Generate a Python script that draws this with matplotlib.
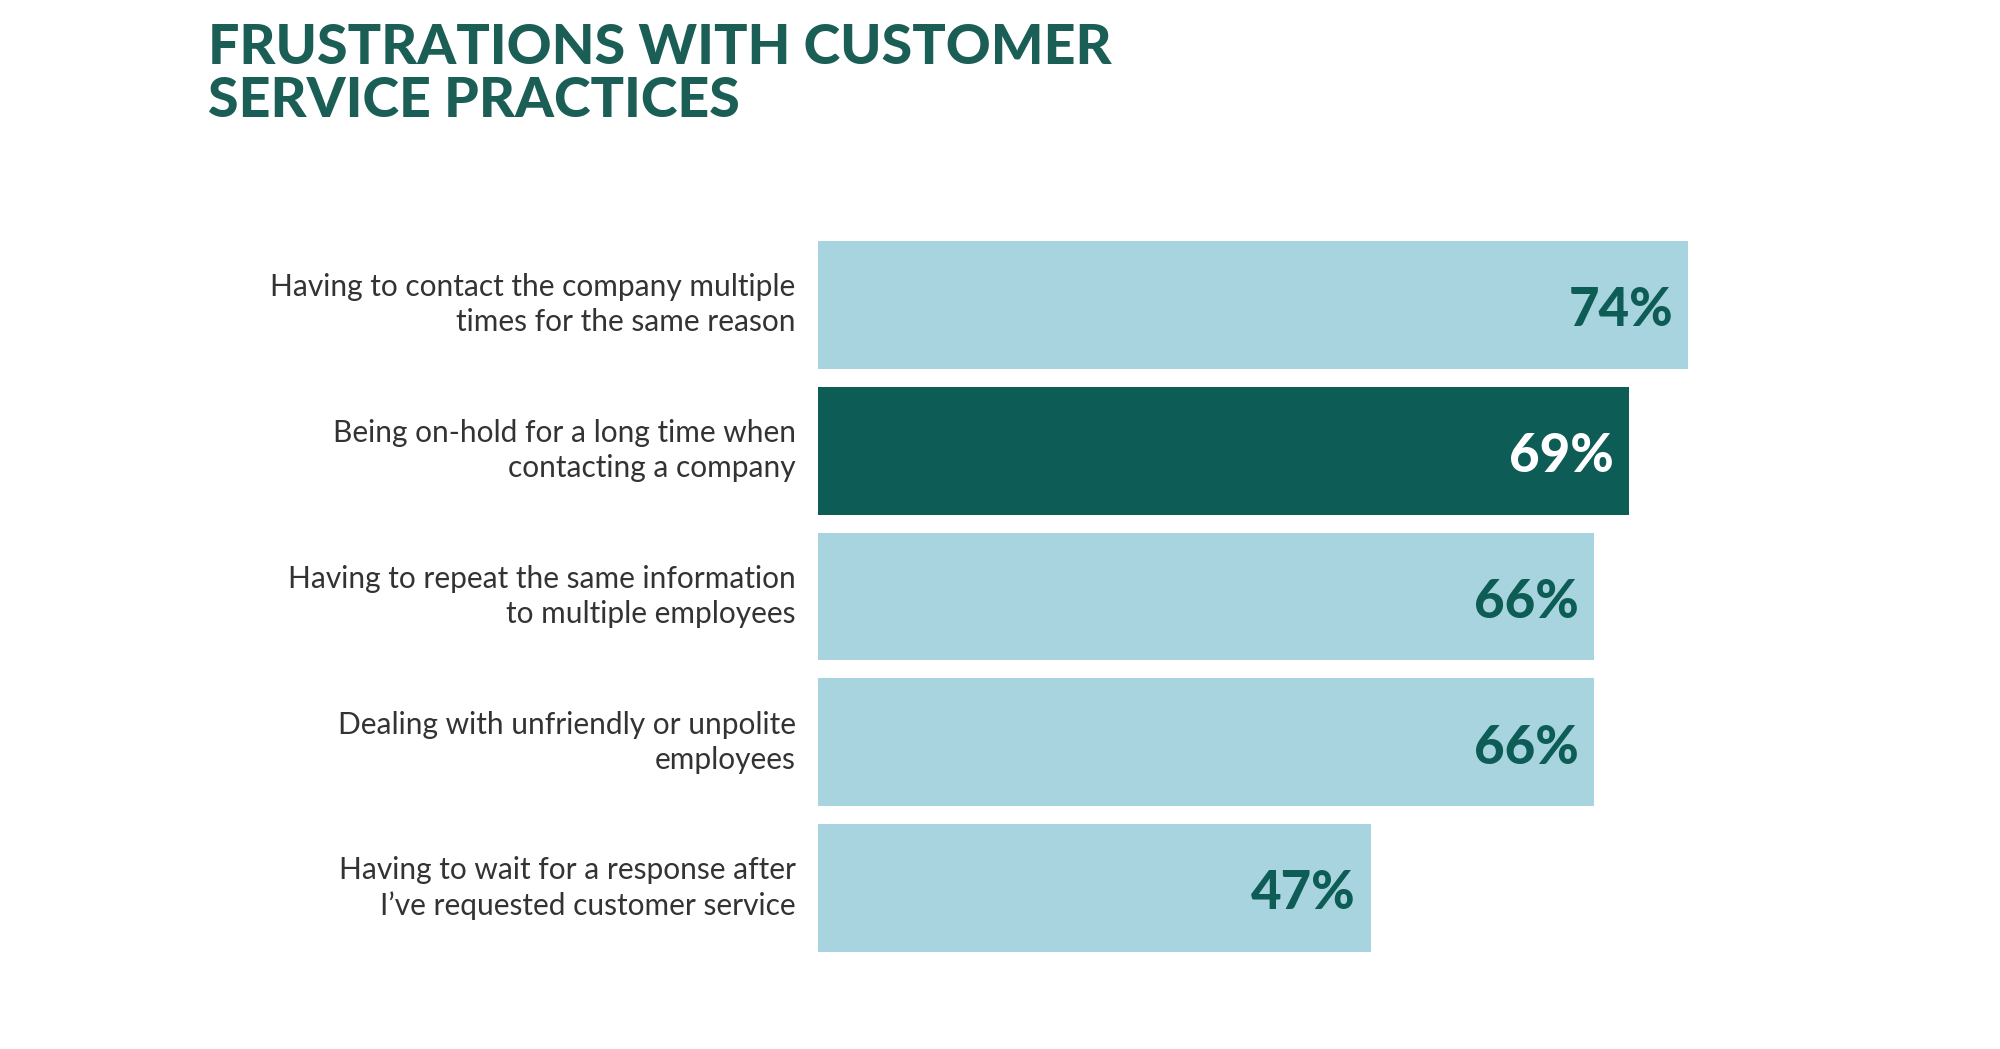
import matplotlib
matplotlib.use("Agg")
import matplotlib.pyplot as plt

# Data
labels = [
    "Having to contact the company multiple\ntimes for the same reason",
    "Being on-hold for a long time when\ncontacting a company",
    "Having to repeat the same information\nto multiple employees",
    "Dealing with unfriendly or unpolite\nemployees",
    "Having to wait for a response after\nI\u2019ve requested customer service",
]
values = [74, 69, 66, 66, 47]
highlight = 1

LIGHT = "#a8d4df"
DARK = "#0e5c56"
TITLE = "#1a5e55"

fig = plt.figure(figsize=(20, 10.49), dpi=100)
ax = fig.add_axes([0.409, 0.0839, 0.588, 0.695])

ypos = list(range(len(values)))
colors = [DARK if i == highlight else LIGHT for i in ypos]
ax.barh(ypos, values, height=0.877, color=colors)
ax.set_xlim(0, 100)
ax.set_ylim(len(values) - 0.5, -0.5)
ax.axis("off")

for i, v in enumerate(values):
    ax.text(v - 1.3, i + 0.04, f"{v}%", ha="right", va="center", fontsize=38,
            fontweight="black", family="Lato",
            color="white" if i == highlight else DARK)
    ax.text(-1.9, i, labels[i], ha="right", va="center", fontsize=21.5,
            family="Lato", color="#333333", linespacing=1.3)

fig.text(0.104, 0.978, "FRUSTRATIONS WITH CUSTOMER\nSERVICE PRACTICES",
         ha="left", va="top", fontsize=40, fontweight="black", family="Lato",
         color=TITLE, linespacing=1.08)

fig.savefig("out.png", dpi=100, facecolor="white")
